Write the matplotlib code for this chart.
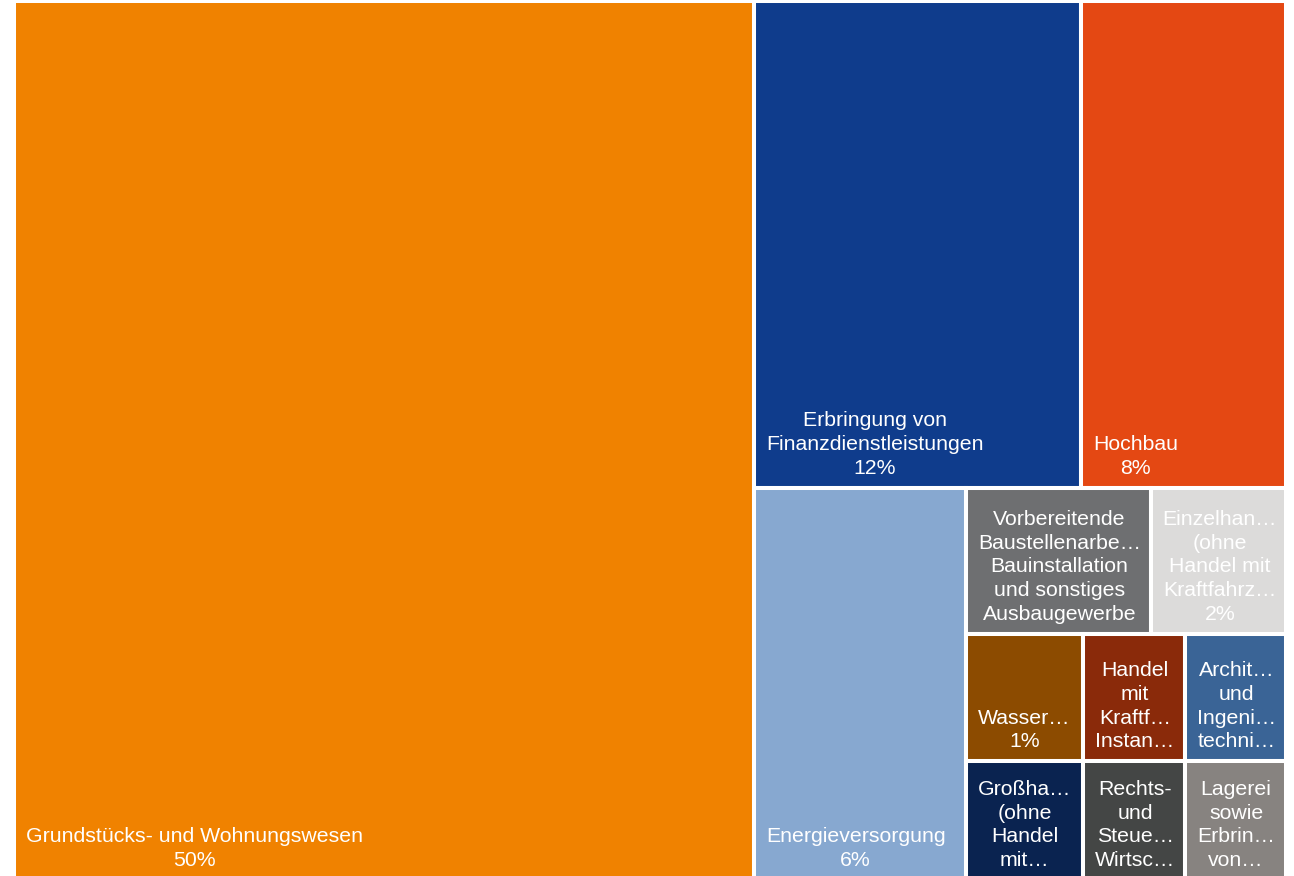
import numpy as np
import matplotlib.pyplot as plt
from matplotlib.patches import Rectangle

plt.rcParams['font.family'] = ['Liberation Sans', 'DejaVu Sans']

# DATA (Anteile in %, Reihenfolge absteigend)
names = [
    "Grundstücks- und Wohnungswesen",
    "Erbringung von\nFinanzdienstleistungen",
    "Hochbau",
    "Energieversorgung",
    "Vorbereitende\nBaustellenarbe…\nBauinstallation\nund sonstiges\nAusbaugewerbe",
    "Einzelhan…\n(ohne\nHandel mit\nKraftfahrz…",
    "Wasser…",
    "Großha…\n(ohne\nHandel\nmit…",
    "Handel\nmit\nKraftf…\nInstan…",
    "Archit…\nund\nIngeni…\ntechni…",
    "Rechts-\nund\nSteue…\nWirtsc…",
    "Lagerei\nsowie\nErbrin…\nvon…",
]
shares = [50.0, 12.25, 7.66, 6.40, 2.07, 1.52, 1.15, 1.07, 1.00, 0.99, 0.93, 0.92]
show_pct = [True, True, True, True, False, True, True, False, False, False, False, False]
colors = ['#F08200', '#0F3C8C', '#E44813', '#87A8D0', '#6E6F71', '#DCDBDA',
          '#8C4B00', '#0A2350', '#8A2A0A', '#3A6496', '#444645', '#878380']


def squarify(values, x0, y0, x1, y1, ratio=1.2):
    # squarified treemap (d3-style with target ratio)
    rects = []
    n = len(values)
    remaining = float(sum(values))
    i0 = 0
    while i0 < n:
        dx, dy = x1 - x0, y1 - y0
        s = values[i0]
        i1 = i0 + 1
        vmin = vmax = s
        alpha = max(dy / dx, dx / dy) / (remaining * ratio)
        beta = s * s * alpha
        best = max(vmax / beta, beta / vmin)
        while i1 < n:
            v = values[i1]
            s2 = s + v
            beta = s2 * s2 * alpha
            r = max(max(vmax, v) / beta, beta / min(vmin, v))
            if r > best:
                break
            s = s2
            vmin, vmax = min(vmin, v), max(vmax, v)
            best = r
            i1 += 1
        row = values[i0:i1]
        if dx < dy:
            h = dy * s / remaining
            xx = x0
            for v in row:
                w = dx * v / s
                rects.append((xx, y0, w, h))
                xx += w
            y0 += h
        else:
            w = dx * s / remaining
            yy = y0
            for v in row:
                h = dy * v / s
                rects.append((x0, yy, w, h))
                yy += h
            x0 += w
        remaining -= s
        i0 = i1
    return rects


W, H = 1272, 879
fig = plt.figure(figsize=(12.94, 8.76), dpi=100)
ax = fig.add_axes([14 / 1294, (876 - 880) / 876, W / 1294, H / 876])
ax.set_xlim(0, W)
ax.set_ylim(H, 0)
ax.axis('off')

rects = squarify(shares, 0, 0, W, H)
for (x, y, w, h), name, val, pct, c in zip(rects, names, shares, show_pct, colors):
    p = Rectangle((x, y), w, h, facecolor=c, edgecolor='white', linewidth=2.9)
    ax.add_patch(p)
    label = name + ("\n%d%%" % round(val) if pct else "")
    t = ax.text(x + 12, y + h - 10, label, ha='left', va='bottom',
                multialignment='center', color='white', fontsize=15.3,
                linespacing=1.31)
    t.set_clip_path(p)

fig.savefig('out.png', dpi=100, facecolor='white')
